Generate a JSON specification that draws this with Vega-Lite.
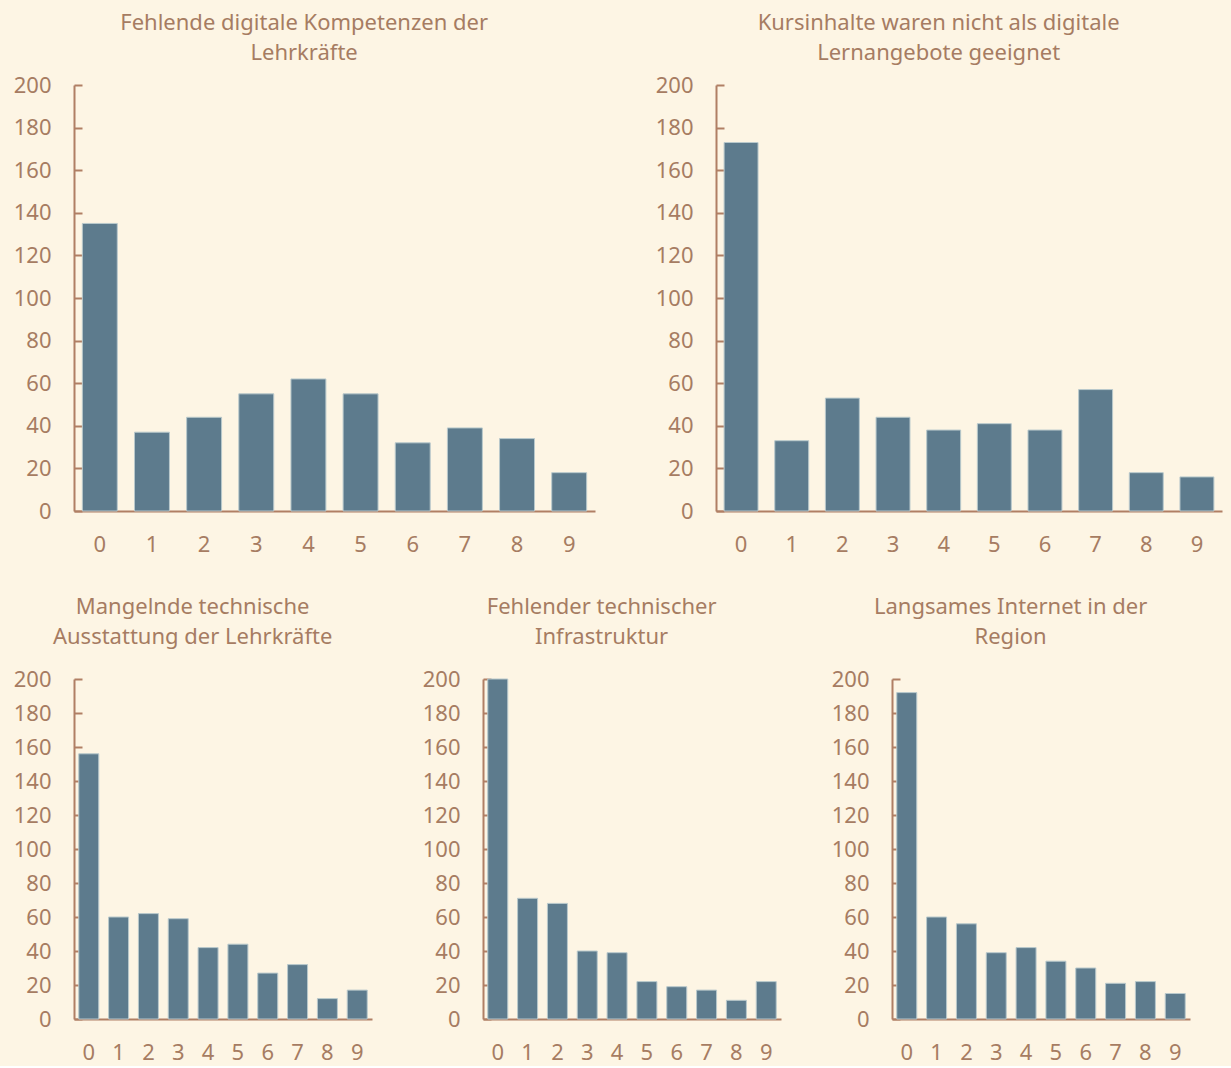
{
  "$schema": "https://vega.github.io/schema/vega-lite/v6.json",
  "background": "#fdf5e4",
  "padding": {"left": 13, "top": 12, "right": 9, "bottom": 3},
  "spacing": 41,
  "config": {
    "view": {"stroke": null},
    "font": "Noto Sans",
    "axis": {
      "labelFont": "Noto Sans",
      "labelFontSize": 22,
      "labelColor": "#a67c62",
      "domainColor": "#b07f64",
      "domainWidth": 2,
      "tickColor": "#b07f64",
      "tickWidth": 2,
      "grid": false,
      "title": null
    },
    "title": {"font": "Noto Sans", "fontSize": 22, "fontWeight": "normal", "color": "#a67c62", "lineHeight": 30, "offset": 9, "frame": "bounds"},
    "bar": {"color": "#5d7b8d", "stroke": "#b9c9cc", "strokeWidth": 1}
  },
  "data": {"values": [
    {"p": 1, "k": "0", "n": 135}, {"p": 1, "k": "1", "n": 37}, {"p": 1, "k": "2", "n": 44}, {"p": 1, "k": "3", "n": 55}, {"p": 1, "k": "4", "n": 62},
    {"p": 1, "k": "5", "n": 55}, {"p": 1, "k": "6", "n": 32}, {"p": 1, "k": "7", "n": 39}, {"p": 1, "k": "8", "n": 34}, {"p": 1, "k": "9", "n": 18},
    {"p": 2, "k": "0", "n": 173}, {"p": 2, "k": "1", "n": 33}, {"p": 2, "k": "2", "n": 53}, {"p": 2, "k": "3", "n": 44}, {"p": 2, "k": "4", "n": 38},
    {"p": 2, "k": "5", "n": 41}, {"p": 2, "k": "6", "n": 38}, {"p": 2, "k": "7", "n": 57}, {"p": 2, "k": "8", "n": 18}, {"p": 2, "k": "9", "n": 16},
    {"p": 3, "k": "0", "n": 156}, {"p": 3, "k": "1", "n": 60}, {"p": 3, "k": "2", "n": 62}, {"p": 3, "k": "3", "n": 59}, {"p": 3, "k": "4", "n": 42},
    {"p": 3, "k": "5", "n": 44}, {"p": 3, "k": "6", "n": 27}, {"p": 3, "k": "7", "n": 32}, {"p": 3, "k": "8", "n": 12}, {"p": 3, "k": "9", "n": 17},
    {"p": 4, "k": "0", "n": 200}, {"p": 4, "k": "1", "n": 71}, {"p": 4, "k": "2", "n": 68}, {"p": 4, "k": "3", "n": 40}, {"p": 4, "k": "4", "n": 39},
    {"p": 4, "k": "5", "n": 22}, {"p": 4, "k": "6", "n": 19}, {"p": 4, "k": "7", "n": 17}, {"p": 4, "k": "8", "n": 11}, {"p": 4, "k": "9", "n": 22},
    {"p": 5, "k": "0", "n": 192}, {"p": 5, "k": "1", "n": 60}, {"p": 5, "k": "2", "n": 56}, {"p": 5, "k": "3", "n": 39}, {"p": 5, "k": "4", "n": 42},
    {"p": 5, "k": "5", "n": 34}, {"p": 5, "k": "6", "n": 30}, {"p": 5, "k": "7", "n": 21}, {"p": 5, "k": "8", "n": 22}, {"p": 5, "k": "9", "n": 15}
  ]},
  "vconcat": [
    {
      "spacing": 60,
      "hconcat": [
        {
          "title": {"text": ["Fehlende digitale Kompetenzen der", "Lehrkräfte"]},
          "width": 521, "height": 426,
          "transform": [{"filter": "datum.p == 1"}],
          "mark": "bar",
          "encoding": {
            "x": {"field": "k", "type": "ordinal", "scale": {"paddingInner": 0.33, "paddingOuter": 0.16}, "axis": {"labelAngle": 0, "ticks": false, "labelPadding": 23}},
            "y": {"field": "n", "type": "quantitative", "scale": {"domain": [0, 200], "nice": false}, "axis": {"values": [0, 20, 40, 60, 80, 100, 120, 140, 160, 180, 200], "tickSize": -8, "labelPadding": 31}}
          }
        },
        {
          "title": {"text": ["Kursinhalte waren nicht als digitale", "Lernangebote geeignet"]},
          "width": 506, "height": 426,
          "transform": [{"filter": "datum.p == 2"}],
          "mark": "bar",
          "encoding": {
            "x": {"field": "k", "type": "ordinal", "scale": {"paddingInner": 0.33, "paddingOuter": 0.16}, "axis": {"labelAngle": 0, "ticks": false, "labelPadding": 23}},
            "y": {"field": "n", "type": "quantitative", "scale": {"domain": [0, 200], "nice": false}, "axis": {"values": [0, 20, 40, 60, 80, 100, 120, 140, 160, 180, 200], "tickSize": -8, "labelPadding": 31}}
          }
        }
      ]
    },
    {
      "spacing": 50,
      "hconcat": [
        {
          "title": {"text": ["Mangelnde technische", "Ausstattung der Lehrkräfte"], "offset": 19},
          "width": 298, "height": 340,
          "transform": [{"filter": "datum.p == 3"}],
          "mark": "bar",
          "encoding": {
            "x": {"field": "k", "type": "ordinal", "scale": {"paddingInner": 0.33, "paddingOuter": 0.16}, "axis": {"labelAngle": 0, "ticks": false, "labelPadding": 23}},
            "y": {"field": "n", "type": "quantitative", "scale": {"domain": [0, 200], "nice": false}, "axis": {"values": [0, 20, 40, 60, 80, 100, 120, 140, 160, 180, 200], "tickSize": -8, "labelPadding": 31}}
          }
        },
        {
          "title": {"text": ["Fehlender technischer", "Infrastruktur"], "offset": 19},
          "width": 298, "height": 340,
          "transform": [{"filter": "datum.p == 4"}],
          "mark": "bar",
          "encoding": {
            "x": {"field": "k", "type": "ordinal", "scale": {"paddingInner": 0.33, "paddingOuter": 0.16}, "axis": {"labelAngle": 0, "ticks": false, "labelPadding": 23}},
            "y": {"field": "n", "type": "quantitative", "scale": {"domain": [0, 200], "nice": false}, "axis": {"values": [0, 20, 40, 60, 80, 100, 120, 140, 160, 180, 200], "tickSize": -8, "labelPadding": 31}}
          }
        },
        {
          "title": {"text": ["Langsames Internet in der", "Region"], "offset": 19},
          "width": 298, "height": 340,
          "transform": [{"filter": "datum.p == 5"}],
          "mark": "bar",
          "encoding": {
            "x": {"field": "k", "type": "ordinal", "scale": {"paddingInner": 0.33, "paddingOuter": 0.16}, "axis": {"labelAngle": 0, "ticks": false, "labelPadding": 23}},
            "y": {"field": "n", "type": "quantitative", "scale": {"domain": [0, 200], "nice": false}, "axis": {"values": [0, 20, 40, 60, 80, 100, 120, 140, 160, 180, 200], "tickSize": -8, "labelPadding": 31}}
          }
        }
      ]
    }
  ]
}
